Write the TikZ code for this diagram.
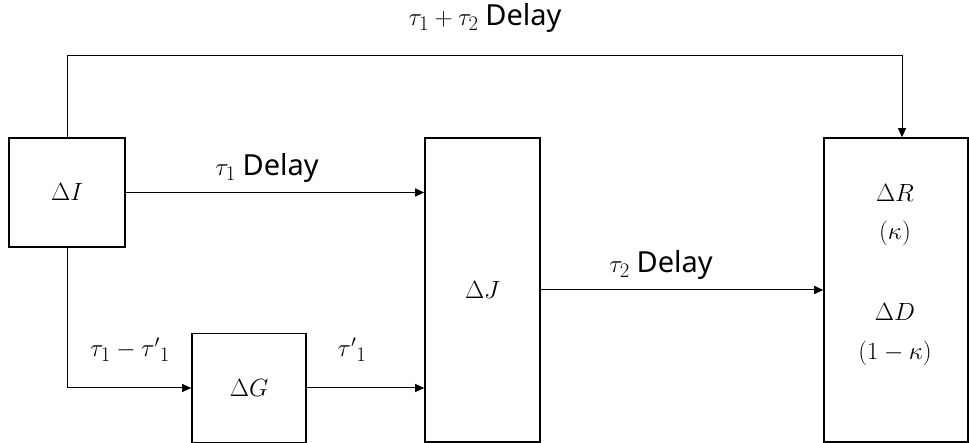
\documentclass[tikz,border=0pt]{standalone}
\usepackage{fontspec}
\setmainfont{Noto Sans}
\usetikzlibrary{arrows.meta}
\newcommand{\dly}{{\fontsize{29}{34}\selectfont Delay}}
\newcommand{\sbs}[1]{_{\mbox{\fontsize{20}{24}\selectfont$#1$}}}
\begin{document}
\begin{tikzpicture}[x=1pt,y=-1pt,
  box/.style={draw,line width=1.6pt,minimum width=#1,inner sep=0pt},
  conn/.style={line width=1pt,-{Triangle[length=9pt,width=8pt]}},
  lbl/.style={font=\fontsize{26}{31}\selectfont,inner sep=0pt},
  every node/.append style={font=\fontsize{26}{31}\selectfont}]
\useasboundingbox (0,0) rectangle (969,443);
\node[box=116pt,minimum height=109pt] (I) at (67,192.5) {$\Delta I$};
\node[box=115pt,minimum height=304pt] (J) at (482.5,290) {$\Delta J$};
\node[box=114pt,minimum height=109pt] (G) at (249,388) {$\Delta G$};
\node[box=144pt,minimum height=304pt] (R) at (896,290) {};
\node[lbl] (rR) at (895,193) {$\Delta R$};
\node[lbl] (rk) at (895,233) {$(\kappa)$};
\node[lbl] (rD) at (895,312) {$\Delta D$};
\node[lbl] (rk2) at (895,353) {$(1-\kappa)$};
\coordinate (tl) at (67,56);
\draw[conn] (I.north) -- (I.north |- tl) -| ([xshift=6pt]R.north);
\draw[conn] (I.east) -- (I.east -| J.west);
\draw[conn] (J.east) -- (J.east -| R.west);
\draw[conn] (I.south) |- (G.west);
\draw[conn] (G.east) -- (G.east -| J.west);
\node[lbl] (t12) at (485,18) {$\tau\sbs{1}+\tau\sbs{2}$ \dly};
\node[lbl] (t1) at (267,168) {$\tau\sbs{1}$ \dly};
\node[lbl] (t2) at (661,265) {$\tau\sbs{2}$ \dly};
\node[lbl] (t1m) at (130,350) {$\tau\sbs{1}-{\tau'}\sbs{1}$};
\node[lbl] (t1p) at (352,350) {${\tau'}\sbs{1}$};
\end{tikzpicture}
\end{document}
